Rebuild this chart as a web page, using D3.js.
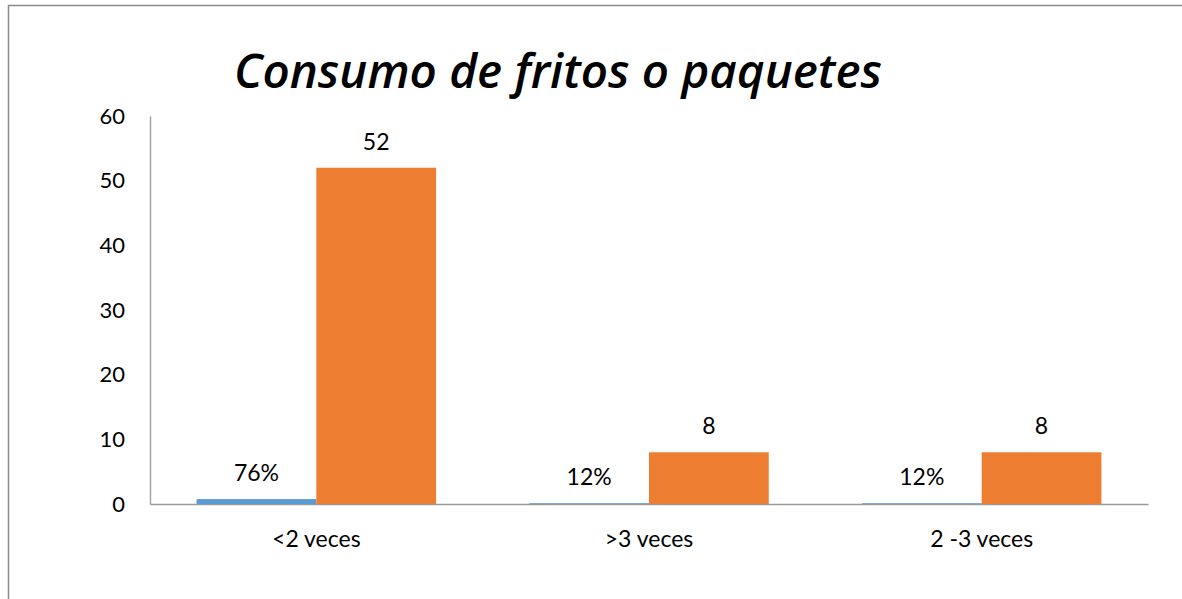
<!DOCTYPE html>
<html>
<head>
<meta charset="utf-8">
<script src="https://cdn.jsdelivr.net/npm/d3@7"></script>
<style>
  body { margin: 0; background: #fff; }
  svg text { font-family: Lato, "Open Sans", sans-serif; fill: #000; }
</style>
</head>
<body>
<div id="chart"></div>
<script>
var categories = ["<2 veces", ">3 veces", "2 -3 veces"];
var porcentaje = [0.76, 0.12, 0.12];
var frecuencia = [52, 8, 8];
var yTicks = [0, 10, 20, 30, 40, 50, 60];
var titulo = "Consumo de fritos o paquetes";

var width = 1182, height = 599;
var plot = {left: 150, right: 1148, top: 116, bottom: 504};

var svg = d3.select("#chart").append("svg")
    .attr("width", width)
    .attr("height", height);

// outer frame (only top/left visible in the picture)
svg.append("rect")
    .attr("x", 8.5).attr("y", 5.5)
    .attr("width", width + 10).attr("height", height + 10)
    .attr("fill", "none")
    .attr("stroke", "#8c8c8c")
    .attr("stroke-width", 1.5);

svg.append("text")
    .attr("x", 558).attr("y", 88)
    .attr("text-anchor", "middle")
    .style("font-family", "\"Open Sans\", Lato, sans-serif")
    .style("font-size", "47.5px")
    .style("font-weight", "600")
    .style("font-style", "italic")
    .text(titulo);

var x = d3.scaleBand()
    .domain(categories)
    .range([plot.left, plot.right])
    .paddingInner(0.28)
    .paddingOuter(0.14);

var y = d3.scaleLinear()
    .domain([0, 60])
    .range([plot.bottom, plot.top]);

var barW = x.bandwidth() / 2;

// y axis
var yAxis = svg.append("g")
    .attr("transform", "translate(" + plot.left + ",0)")
    .call(d3.axisLeft(y).tickValues(yTicks).tickSize(0).tickPadding(25));
yAxis.select(".domain").attr("stroke", "#999").attr("stroke-width", 1.3);
yAxis.selectAll("text").style("font-size", "22px").style("font-family", "Lato, sans-serif");

// x axis
var xAxis = svg.append("g")
    .attr("transform", "translate(0," + plot.bottom + ")")
    .call(d3.axisBottom(x).tickSize(0).tickPadding(27));
xAxis.select(".domain").attr("stroke", "#999").attr("stroke-width", 1.3);
xAxis.selectAll("text").style("font-size", "23px").style("font-family", "Lato, sans-serif");

var data = categories.map(function(c, i) {
    return {cat: c, p: porcentaje[i], n: frecuencia[i]};
});

var g = svg.append("g");

g.selectAll("rect.pct")
    .data(data).enter().append("rect")
    .attr("class", "pct")
    .attr("x", function(d) { return x(d.cat); })
    .attr("y", function(d) { return y(d.p); })
    .attr("width", barW)
    .attr("height", function(d) { return y(0) - y(d.p); })
    .attr("fill", "#5b9bd5");

g.selectAll("rect.num")
    .data(data).enter().append("rect")
    .attr("class", "num")
    .attr("x", function(d) { return x(d.cat) + barW; })
    .attr("y", function(d) { return y(d.n); })
    .attr("width", barW)
    .attr("height", function(d) { return y(0) - y(d.n); })
    .attr("fill", "#ed7d31");

var fmt = d3.format(".0%");

g.selectAll("text.pct")
    .data(data).enter().append("text")
    .attr("class", "pct")
    .attr("x", function(d) { return x(d.cat) + barW / 2; })
    .attr("y", function(d) { return y(d.p) - 18; })
    .attr("text-anchor", "middle")
    .style("font-size", "23px")
    .text(function(d) { return fmt(d.p); });

g.selectAll("text.num")
    .data(data).enter().append("text")
    .attr("class", "num")
    .attr("x", function(d) { return x(d.cat) + barW * 1.5; })
    .attr("y", function(d) { return y(d.n) - 18; })
    .attr("text-anchor", "middle")
    .style("font-size", "23px")
    .text(function(d) { return d.n; });
</script>
</body>
</html>
